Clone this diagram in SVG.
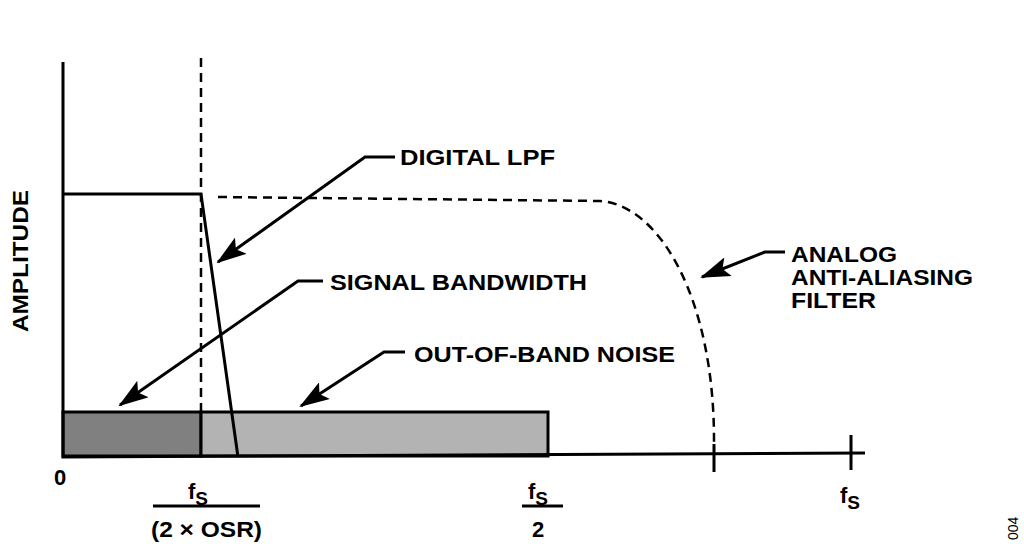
<svg xmlns="http://www.w3.org/2000/svg" width="1024" height="547" viewBox="0 0 1024 547">
<style>
text{font-family:"Liberation Sans",Arial,sans-serif;font-weight:bold;font-size:22px;fill:#000}
.l{stroke:#000;stroke-width:3;fill:none}
.d{stroke:#000;stroke-width:2.5;fill:none;stroke-dasharray:9,6}
</style>
<defs>
<marker id="ar2" viewBox="0 0 30 20" refX="28" refY="10" markerWidth="30" markerHeight="20" orient="auto" markerUnits="userSpaceOnUse"><path d="M0,0 L30,10 L0,20 L6,10 Z" fill="#000"/></marker></defs>
<g id="bands">
<rect x="63" y="412" width="138" height="44" fill="#808080" stroke="#000" stroke-width="3"/>
<rect x="201" y="412" width="347" height="44" fill="#b3b3b3" stroke="#000" stroke-width="3"/>
</g>
<g id="axes">
<path class="l" d="M63,62 V457 L865,453"/>
<path class="l" d="M714,444 V472 M851,435 V470"/>
</g>
<g id="curves">
<path class="d" d="M201,58 V412"/>
<path class="d" d="M218,197 L600,201 C660,205 715,300 714,444"/>
<path class="l" d="M63,194 H201 L238,457"/>
</g>
<g id="connectors" style="stroke:#000;stroke-width:3;fill:none">
<path d="M395,157 H365 L218,262" marker-end="url(#ar2)"/>
<path d="M323,281 H298 L120,405" marker-end="url(#ar2)"/>
<path d="M405,352 H384 L301,406" marker-end="url(#ar2)"/>
<path d="M785,252 H765 L702,277" marker-end="url(#ar2)"/>
</g>
<g id="labels">
<text x="400" y="165" textLength="155" lengthAdjust="spacingAndGlyphs">DIGITAL LPF</text>
<text x="330" y="290" textLength="257" lengthAdjust="spacingAndGlyphs">SIGNAL BANDWIDTH</text>
<text x="414" y="362" textLength="261" lengthAdjust="spacingAndGlyphs">OUT-OF-BAND NOISE</text>
<text x="791" y="262" textLength="106" lengthAdjust="spacingAndGlyphs">ANALOG</text>
<text x="791" y="285" textLength="182" lengthAdjust="spacingAndGlyphs">ANTI-ALIASING</text>
<text x="791" y="308" textLength="85" lengthAdjust="spacingAndGlyphs">FILTER</text>
<text transform="translate(28,332) rotate(-90)" textLength="142" lengthAdjust="spacingAndGlyphs">AMPLITUDE</text>
<text x="54" y="485">0</text>
<text x="188" y="499" font-size="27">f<tspan font-size="19" dy="6">S</tspan></text>
<path class="l" d="M153,506 H260" stroke-width="2"/>
<text x="151" y="537" textLength="111" lengthAdjust="spacingAndGlyphs">(2 × OSR)</text>
<text x="528" y="499" font-size="27">f<tspan font-size="19" dy="6">S</tspan></text>
<path class="l" d="M522,506 H563" stroke-width="2"/>
<text x="532" y="537">2</text>
<text x="840" y="503" font-size="27">f<tspan font-size="19" dy="6">S</tspan></text>
<text transform="translate(1018,540) rotate(-90)" style="font-weight:normal;font-size:14px">004</text>
</g>
</svg>
